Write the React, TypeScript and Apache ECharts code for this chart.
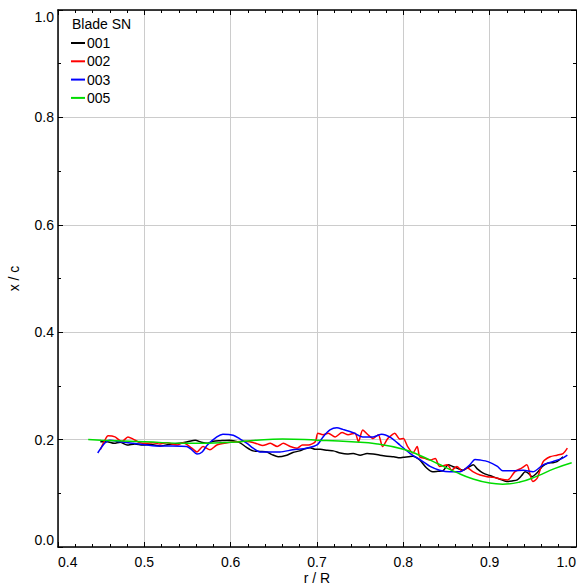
import React, { useEffect, useRef } from "react";
import * as echarts from "echarts";

const seriesNames = ["001", "002", "003", "005"];
const seriesColors = ["#000000", "#ff0000", "#0000ff", "#00dc00"];

const blade001: [number, number][] = [
  [0.449, 0.196], [0.457, 0.196], [0.465, 0.193], [0.472, 0.195], [0.48, 0.19], [0.489, 0.192],
  [0.498, 0.19], [0.508, 0.191], [0.518, 0.188], [0.528, 0.191], [0.541, 0.193], [0.55, 0.196],
  [0.559, 0.199], [0.566, 0.195], [0.573, 0.193], [0.58, 0.197], [0.588, 0.198], [0.599, 0.199],
  [0.605, 0.197], [0.611, 0.194], [0.618, 0.186], [0.626, 0.179], [0.634, 0.178], [0.642, 0.177],
  [0.648, 0.172], [0.655, 0.168], [0.665, 0.171], [0.672, 0.176], [0.68, 0.179], [0.686, 0.183],
  [0.692, 0.185], [0.698, 0.182], [0.704, 0.182], [0.712, 0.18], [0.719, 0.179], [0.727, 0.175],
  [0.735, 0.173], [0.742, 0.174], [0.75, 0.171], [0.758, 0.174], [0.765, 0.173], [0.773, 0.171],
  [0.781, 0.169], [0.789, 0.168], [0.796, 0.166], [0.8, 0.167], [0.806, 0.168], [0.811, 0.169],
  [0.819, 0.162], [0.827, 0.147], [0.834, 0.14], [0.84, 0.141], [0.846, 0.142], [0.852, 0.153],
  [0.857, 0.15], [0.862, 0.147], [0.869, 0.143], [0.875, 0.148], [0.881, 0.153], [0.886, 0.145],
  [0.892, 0.138], [0.9, 0.133], [0.909, 0.128], [0.914, 0.125], [0.92, 0.122], [0.926, 0.123],
  [0.932, 0.125], [0.937, 0.133], [0.941, 0.14], [0.945, 0.137], [0.949, 0.131], [0.956, 0.14],
  [0.961, 0.15], [0.967, 0.156], [0.973, 0.157], [0.978, 0.159], [0.985, 0.168],
];

const blade002: [number, number][] = [
  [0.449, 0.181], [0.454, 0.198], [0.458, 0.207], [0.466, 0.205], [0.474, 0.196], [0.481, 0.205],
  [0.487, 0.201], [0.495, 0.194], [0.503, 0.193], [0.51, 0.194], [0.518, 0.192], [0.526, 0.194],
  [0.538, 0.19], [0.545, 0.194], [0.555, 0.184], [0.561, 0.177], [0.568, 0.187], [0.576, 0.181],
  [0.584, 0.19], [0.596, 0.194], [0.607, 0.196], [0.615, 0.197], [0.622, 0.196], [0.631, 0.192],
  [0.637, 0.189], [0.646, 0.193], [0.654, 0.187], [0.661, 0.193], [0.669, 0.187], [0.677, 0.184],
  [0.683, 0.19], [0.69, 0.19], [0.698, 0.196], [0.701, 0.212], [0.707, 0.209], [0.713, 0.212],
  [0.721, 0.205], [0.729, 0.213], [0.736, 0.209], [0.744, 0.212], [0.748, 0.196], [0.753, 0.218],
  [0.759, 0.209], [0.765, 0.202], [0.771, 0.209], [0.776, 0.187], [0.782, 0.202], [0.787, 0.209],
  [0.79, 0.212], [0.796, 0.201], [0.8, 0.202], [0.805, 0.187], [0.811, 0.175], [0.816, 0.187],
  [0.819, 0.168], [0.825, 0.165], [0.831, 0.162], [0.837, 0.165], [0.842, 0.15], [0.851, 0.153],
  [0.856, 0.143], [0.862, 0.15], [0.868, 0.142], [0.874, 0.147], [0.881, 0.14], [0.889, 0.134],
  [0.897, 0.131], [0.904, 0.13], [0.914, 0.126], [0.921, 0.125], [0.929, 0.14], [0.937, 0.147],
  [0.943, 0.153], [0.947, 0.134], [0.95, 0.122], [0.955, 0.128], [0.962, 0.159], [0.97, 0.168],
  [0.978, 0.171], [0.985, 0.174], [0.99, 0.184],
];

const blade003: [number, number][] = [
  [0.446, 0.175], [0.454, 0.193], [0.46, 0.199], [0.472, 0.196], [0.487, 0.193], [0.503, 0.19],
  [0.518, 0.188], [0.533, 0.188], [0.549, 0.187], [0.555, 0.181], [0.561, 0.173], [0.567, 0.177],
  [0.573, 0.19], [0.584, 0.205], [0.591, 0.21], [0.603, 0.208], [0.611, 0.201], [0.619, 0.193],
  [0.626, 0.184], [0.634, 0.177], [0.646, 0.177], [0.657, 0.177], [0.672, 0.181], [0.688, 0.184],
  [0.7, 0.19], [0.707, 0.205], [0.715, 0.218], [0.723, 0.222], [0.73, 0.219], [0.742, 0.213],
  [0.753, 0.205], [0.765, 0.205], [0.775, 0.21], [0.785, 0.204], [0.796, 0.19], [0.808, 0.174],
  [0.819, 0.163], [0.831, 0.15], [0.842, 0.143], [0.854, 0.14], [0.866, 0.14], [0.877, 0.153],
  [0.883, 0.163], [0.889, 0.162], [0.898, 0.159], [0.909, 0.15], [0.915, 0.142], [0.927, 0.142],
  [0.939, 0.143], [0.95, 0.14], [0.962, 0.153], [0.973, 0.159], [0.984, 0.165], [0.99, 0.171],
];

const blade005: [number, number][] = [
  [0.435, 0.2], [0.45, 0.199], [0.5, 0.196], [0.55, 0.193], [0.6, 0.195], [0.63, 0.199],
  [0.66, 0.201], [0.7, 0.199], [0.74, 0.196], [0.77, 0.192], [0.8, 0.182], [0.82, 0.17],
  [0.84, 0.155], [0.86, 0.14], [0.88, 0.127], [0.9, 0.119], [0.915, 0.117], [0.935, 0.121],
  [0.955, 0.132], [0.975, 0.146], [0.995, 0.157],
];

const seriesData = [blade001, blade002, blade003, blade005];

const FONT = "'Liberation Sans', Arial, sans-serif";
const FS = 14;

export default function App() {
  const ref = useRef<HTMLDivElement>(null);
  useEffect(() => {
    if (!ref.current) return;
    const chart = echarts.init(ref.current, undefined, { renderer: "svg" });
    const tickStyle = { show: true, inside: true, length: 5, lineStyle: { color: "#000", width: 1 } };
    const minorStyle = { show: true, length: 3, lineStyle: { color: "#000", width: 1 } };
    chart.setOption({
      animation: false,
      backgroundColor: "#fff",
      textStyle: { fontFamily: FONT },
      grid: { left: 58, top: 10, right: 1, bottom: 40, containLabel: false, outerBoundsMode: "none" },
      legend: {
        show: true,
        orient: "vertical",
        left: 71,
        top: 36,
        padding: 0,
        itemWidth: 14,
        itemHeight: 2,
        itemGap: 4.3,
        icon: "rect",
        data: seriesNames,
        textStyle: { fontSize: FS, color: "#000", fontFamily: FONT, lineHeight: 14, padding: [0, 0, 0, -3] },
      },
      graphic: [
        {
          type: "text",
          left: 72,
          top: 17,
          style: { text: "Blade SN", fontSize: FS, fill: "#000", fontFamily: FONT },
        },
      ],
      xAxis: [
        {
          type: "value",
          min: 0.4,
          max: 1.0,
          interval: 0.1,
          name: "r / R",
          nameLocation: "middle",
          nameGap: 24,
          nameMoveOverlap: false,
          nameTextStyle: { fontSize: FS, color: "#000", fontFamily: FONT, lineHeight: 14, verticalAlign: "top" },
          axisLine: { show: true, onZero: false, lineStyle: { color: "#000", width: 1.5 } },
          axisTick: tickStyle,
          minorTick: { ...minorStyle, splitNumber: 5 },
          axisLabel: {
            fontSize: FS,
            color: "#000",
            margin: 8,
            fontFamily: FONT,
            alignMinLabel: "left",
            alignMaxLabel: "right",
            formatter: (v: number) => v.toFixed(1),
          },
          splitLine: { show: true, lineStyle: { color: "#cccccc", width: 1 } },
        },
        {
          type: "value",
          position: "top",
          min: 0.4,
          max: 1.0,
          interval: 0.1,
          axisLine: { show: true, onZero: false, lineStyle: { color: "#000", width: 1.5 } },
          axisTick: tickStyle,
          minorTick: { ...minorStyle, splitNumber: 5 },
          axisLabel: { show: false },
          splitLine: { show: false },
        },
      ],
      yAxis: [
        {
          type: "value",
          min: 0,
          max: 1.0,
          interval: 0.2,
          name: "x / c",
          nameLocation: "middle",
          nameGap: 37,
          nameMoveOverlap: false,
          nameRotate: 90,
          nameTextStyle: { fontSize: FS, color: "#000", fontFamily: FONT },
          axisLine: { show: true, onZero: false, lineStyle: { color: "#000", width: 1.5 } },
          axisTick: tickStyle,
          minorTick: { ...minorStyle, splitNumber: 2 },
          axisLabel: {
            fontSize: FS,
            color: "#000",
            margin: 4,
            fontFamily: FONT,
            verticalAlignMinLabel: "bottom",
            verticalAlignMaxLabel: "top",
            formatter: (v: number) => v.toFixed(1),
          },
          splitLine: { show: true, lineStyle: { color: "#cccccc", width: 1 } },
        },
        {
          type: "value",
          position: "right",
          min: 0,
          max: 1.0,
          interval: 0.2,
          axisLine: { show: true, onZero: false, lineStyle: { color: "#000", width: 1 } },
          axisTick: tickStyle,
          minorTick: { ...minorStyle, splitNumber: 2 },
          axisLabel: { show: false },
          splitLine: { show: false },
        },
      ],
      series: seriesNames.map((name, i) => ({
        name,
        type: "line",
        xAxisIndex: 0,
        yAxisIndex: 0,
        data: seriesData[i],
        symbol: "none",
        smooth: i === 3 ? 0.5 : 0.25,
        lineStyle: { color: seriesColors[i], width: 1.5 },
        itemStyle: { color: seriesColors[i] },
      })),
    });
    return () => chart.dispose();
  }, []);
  return (
    <div
      ref={ref}
      style={{ position: "fixed", left: 0, top: 0, width: 577, height: 587, background: "#fff" }}
    />
  );
}
